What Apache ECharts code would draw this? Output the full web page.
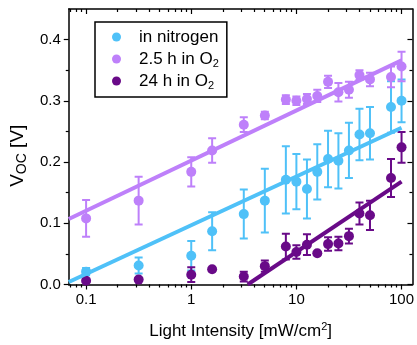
<!DOCTYPE html>
<html>
<head>
<meta charset="utf-8">
<script src="https://cdn.jsdelivr.net/npm/echarts@6/dist/echarts.min.js"></script>
<style>
  html, body { margin: 0; padding: 0; background: #fff; }
  #chart { width: 417px; height: 345px; }
</style>
</head>
<body>
<div id="chart"></div>
<script>
// Light intensity steps (mW/cm^2)
const intensity = [0.1, 0.316, 1, 1.58, 3.16, 5.01, 7.94, 10, 12.6, 15.8, 20, 25.1, 31.6, 39.8, 50.1, 79.4, 100];

// Open-circuit voltage (V) and its spread for each condition
const nitrogenVoc = [0.021, 0.031, 0.047, 0.087, 0.115, 0.137, 0.171, 0.168, 0.156, 0.184, 0.205, 0.202, 0.219, 0.245, 0.247, 0.290, 0.300];
const nitrogenErr = [0.006, 0.013, 0.024, 0.031, 0.040, 0.052, 0.055, 0.045, 0.048, 0.045, 0.046, 0.045, 0.045, 0.042, 0.043, 0.042, 0.035];

const o2ShortVoc = [0.108, 0.137, 0.184, 0.219, 0.261, 0.276, 0.302, 0.300, 0.303, 0.308, 0.331, 0.314, 0.318, 0.342, 0.335, 0.339, 0.356];
const o2ShortErr = [0.030, 0.039, 0.024, 0.020, 0.012, 0.006, 0.007, 0.007, 0.008, 0.010, 0.010, 0.015, 0.013, 0.008, 0.011, 0.017, 0.024];

const o2LongVoc = [0.006, 0.008, 0.016, 0.025, 0.013, 0.030, 0.062, 0.053, 0.065, 0.051, 0.066, 0.067, 0.079, 0.116, 0.113, 0.174, 0.224];
const o2LongErr = [0, 0, 0.012, 0, 0.008, 0.009, 0.021, 0.011, 0.017, 0, 0.011, 0.011, 0.012, 0.018, 0.024, 0.031, 0.025];

// Logarithmic fits, given as [intensity, Voc] end points
const nitrogenFit = [[0.0684, 0.004], [100, 0.256]];
const o2ShortFit  = [[0.0684, 0.107], [100, 0.366]];
const o2LongFit   = [[3.44, 0.0], [100, 0.168]];

const seriesNames = ['in nitrogen', '2.5 h in O2', '24 h in O2'];
const seriesColors = ['#4FC1F8', '#BE80FA', '#690A88'];

// Axis ticks
const xMajor = [0.1, 1, 10, 100];
const xMinor = [0.07, 0.08, 0.09, 0.2, 0.3, 0.4, 0.5, 0.6, 0.7, 0.8, 0.9,
                2, 3, 4, 5, 6, 7, 8, 9, 20, 30, 40, 50, 60, 70, 80, 90];
const yMajor = [0, 0.1, 0.2, 0.3, 0.4];
const yMinor = [0.05, 0.15, 0.25, 0.35];

const X_MIN = 0.0684, X_MAX = 127, Y_MIN = 0, Y_MAX = 0.45;
const FONT = 'Liberation Sans, Arial, sans-serif';
const AXIS_COLOR = '#000';

function xAxisDef(position, ticks, len, inside, showLine, labels) {
  return {
    type: 'log', logBase: 10, position, min: X_MIN, max: X_MAX,
    axisLine: { show: showLine, onZero: false, lineStyle: { color: AXIS_COLOR, width: 1.5 } },
    axisTick: { show: true, customValues: ticks, length: len, inside, lineStyle: { color: AXIS_COLOR, width: 1.2 } },
    axisLabel: labels ? {
      show: true, customValues: xMajor, color: '#000', fontSize: 15, fontFamily: FONT, margin: 8,
      formatter: v => String(v)
    } : { show: false },
    minorTick: { show: false }, splitLine: { show: false }
  };
}

function yAxisDef(position, ticks, len, inside, showLine, labels) {
  return {
    type: 'value', position, min: Y_MIN, max: Y_MAX,
    axisLine: { show: showLine, onZero: false, lineStyle: { color: AXIS_COLOR, width: 1.5 } },
    axisTick: { show: true, customValues: ticks, length: len, inside, lineStyle: { color: AXIS_COLOR, width: 1.2 } },
    axisLabel: labels ? {
      show: true, customValues: yMajor, color: '#000', fontSize: 15, fontFamily: FONT, margin: 8,
      formatter: v => v.toFixed(1)
    } : { show: false },
    splitLine: { show: false }
  };
}

const xAxes = [
  xAxisDef('bottom', xMajor, 5, false, true, true),
  xAxisDef('bottom', xMinor, 3, false, false, false),
  xAxisDef('top', xMajor, 5, true, true, false),
  xAxisDef('top', xMinor, 3, true, false, false)
];
Object.assign(xAxes[0], {
  name: 'Light Intensity [mW/cm{sup|2}]', nameLocation: 'middle', nameGap: 37,
  nameTextStyle: {
    color: '#000', fontSize: 17, fontFamily: FONT,
    rich: { sup: { fontSize: 11, fontFamily: FONT, color: '#000', padding: [0, 0, 9, 0] } }
  }
});

const yAxes = [
  yAxisDef('left', yMajor, 5, false, true, true),
  yAxisDef('left', yMinor, 3, false, false, false),
  yAxisDef('right', yMajor, 5, true, true, false),
  yAxisDef('right', yMinor, 3, true, false, false)
];
Object.assign(yAxes[0], {
  name: 'V{sub|OC} [V]', nameLocation: 'middle', nameGap: 38,
  nameTextStyle: {
    color: '#000', fontSize: 19, fontFamily: FONT, padding: [0, 18, 0, 0],
    rich: { sub: { fontSize: 14, fontFamily: FONT, color: '#000', padding: [9, 0, 0, 0] } }
  }
});

function errorBars(id, values, errs, color) {
  const data = [];
  intensity.forEach((x, i) => {
    if (errs[i] > 0) data.push([x, values[i] - errs[i], values[i] + errs[i]]);
  });
  return {
    type: 'custom', name: id, xAxisIndex: 0, yAxisIndex: 0, data, clip: true, silent: true,
    encode: { x: 0, y: [1, 2] },
    renderItem(params, api) {
      const x = api.value(0);
      const top = api.coord([x, api.value(2)]);
      const bot = api.coord([x, api.value(1)]);
      const cap = 4;
      const style = { stroke: color, lineWidth: 2 };
      return {
        type: 'group',
        children: [
          { type: 'line', shape: { x1: top[0], y1: top[1], x2: bot[0], y2: bot[1] }, style },
          { type: 'line', shape: { x1: top[0] - cap, y1: top[1], x2: top[0] + cap, y2: top[1] }, style },
          { type: 'line', shape: { x1: bot[0] - cap, y1: bot[1], x2: bot[0] + cap, y2: bot[1] }, style }
        ]
      };
    }
  };
}

function fitLine(id, pts, color) {
  return {
    type: 'line', name: id, xAxisIndex: 0, yAxisIndex: 0, data: pts, clip: true,
    symbol: 'none', silent: true, lineStyle: { color, width: 4 }
  };
}

function points(name, values, color) {
  return {
    type: 'scatter', name, xAxisIndex: 0, yAxisIndex: 0,
    data: intensity.map((x, i) => [x, values[i]]),
    symbol: 'circle', symbolSize: 10, itemStyle: { color, opacity: 1 }, clip: false
  };
}

const groups = [
  [nitrogenVoc, nitrogenErr, nitrogenFit],
  [o2ShortVoc, o2ShortErr, o2ShortFit],
  [o2LongVoc, o2LongErr, o2LongFit]
];
const series = [];
groups.forEach(([v, e, f], k) => {
  series.push(errorBars('err' + k, v, e, seriesColors[k]));
  series.push(fitLine('fit' + k, f, seriesColors[k]));
  series.push(points(seriesNames[k], v, seriesColors[k]));
});

const chart = echarts.init(document.getElementById('chart'), null, { renderer: 'canvas' });
chart.setOption({
  animation: false,
  backgroundColor: '#fff',
  grid: { left: 67, right: 3, top: 9, bottom: 57, containLabel: false },
  xAxis: xAxes,
  yAxis: yAxes,
  legend: {
    data: seriesNames,
    orient: 'vertical', left: 95, top: 22,
    icon: 'circle', itemWidth: 9, itemHeight: 9, itemGap: 2,
    padding: [5, 8, 6, 17],
    borderColor: '#000', borderWidth: 1.5, borderRadius: 0,
    selectedMode: false,
    formatter: n => n.replace(/O2$/, 'O{sub|2}'),
    textStyle: {
      color: '#000', fontSize: 17, fontFamily: FONT, lineHeight: 20, padding: [0, 0, 0, 13],
      rich: { sub: { fontSize: 11, fontFamily: FONT, color: '#000', lineHeight: 20, padding: [9, 0, 0, 0] } }
    }
  },
  series
});
</script>
</body>
</html>
